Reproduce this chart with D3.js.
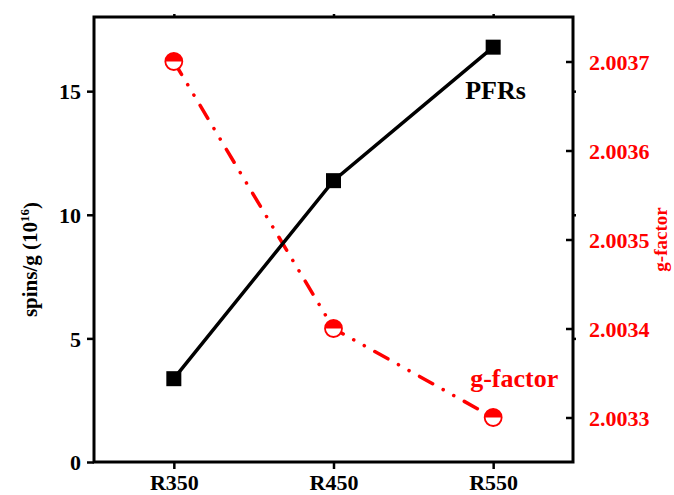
<!DOCTYPE html>
<html>
<head>
<meta charset="utf-8">
<script src="https://cdn.jsdelivr.net/npm/d3@7"></script>
<style>
  body { margin: 0; background: #fff; }
  text { font-family: "Liberation Serif", "Times New Roman", serif; font-weight: bold; }
</style>
</head>
<body>
<svg id="plot"></svg>
<script>
var samples = ["R350", "R450", "R550"];
var spins = [3.37, 11.38, 16.78];
var gFactor = [2.0037, 2.0034, 2.0033];
var spinTicks = [0, 5, 10, 15];
var gTicks = [2.0033, 2.0034, 2.0035, 2.0036, 2.0037];

var width = 674, height = 495;
var margin = {top: 17, right: 101, bottom: 33, left: 94};

var svg = d3.select("#plot")
    .attr("width", width)
    .attr("height", height);

var xScale = d3.scaleLinear()
    .domain([-0.5, 2.5])
    .range([margin.left, width - margin.right]);
var yScale = d3.scaleLinear()
    .domain([0, 18])
    .range([height - margin.bottom, margin.top]);
var gScale = d3.scaleLinear()
    .domain([2.00325, 2.00375])
    .range([height - margin.bottom, margin.top]);

// axes
var xAxis = svg.append("g")
    .attr("transform", "translate(0," + (height - margin.bottom) + ")")
    .call(d3.axisBottom(xScale)
      .tickValues(d3.range(samples.length))
      .tickFormat(i => samples[i])
      .tickSize(7)
      .tickSizeOuter(0)
      .tickPadding(5));
xAxis.selectAll("text").style("font-size", "22px").attr("fill", "#000");

var yAxis = svg.append("g")
    .attr("transform", "translate(" + margin.left + ",0)")
    .call(d3.axisLeft(yScale)
      .tickValues(spinTicks)
      .tickSize(7)
      .tickSizeOuter(0)
      .tickPadding(6));
yAxis.selectAll("text").style("font-size", "22px").attr("fill", "#000").attr("dy", "0.35em");

var gAxis = svg.append("g")
    .attr("transform", "translate(" + (width - margin.right) + ",0)")
    .call(d3.axisRight(gScale)
      .tickValues(gTicks)
      .tickFormat(d3.format(".4f"))
      .tickSize(-7)
      .tickSizeOuter(0)
      .tickPadding(16));
gAxis.selectAll("text").style("font-size", "22px").attr("fill", "#ff0000").attr("dy", "0.35em");

// small mirrored ticks on top and right edges
svg.append("g")
    .attr("transform", "translate(0," + margin.top + ")")
    .call(d3.axisTop(xScale).tickValues(d3.range(samples.length)).tickFormat("").tickSize(3).tickSizeOuter(0));
svg.append("g")
    .attr("transform", "translate(" + (width - margin.right) + ",0)")
    .call(d3.axisRight(yScale).tickValues(spinTicks.slice(1)).tickFormat("").tickSize(3).tickSizeOuter(0));

svg.selectAll(".domain").remove();
svg.selectAll(".tick line").attr("stroke", "#000").attr("stroke-width", 2.5);

// frame
svg.append("rect")
    .attr("x", margin.left)
    .attr("y", margin.top)
    .attr("width", width - margin.left - margin.right)
    .attr("height", height - margin.top - margin.bottom)
    .attr("fill", "none")
    .attr("stroke", "#000")
    .attr("stroke-width", 3);

// g-factor series
var gLine = d3.line()
    .x((d, i) => xScale(i))
    .y(d => gScale(d));
svg.append("path")
    .datum(gFactor)
    .attr("fill", "none")
    .attr("stroke", "#ff0000")
    .attr("stroke-width", 3.5)
    .attr("stroke-linecap", "round")
    .attr("stroke-dasharray", "15,12,0.1,12,0.1,12")
    .attr("d", gLine);

// spins series
var sLine = d3.line()
    .x((d, i) => xScale(i))
    .y(d => yScale(d));
svg.append("path")
    .datum(spins)
    .attr("fill", "none")
    .attr("stroke", "#000")
    .attr("stroke-width", 3.5)
    .attr("d", sLine);

svg.selectAll(".sq")
    .data(spins)
    .enter().append("rect")
    .attr("x", (d, i) => xScale(i) - 7.5)
    .attr("y", d => yScale(d) - 7.5)
    .attr("width", 15)
    .attr("height", 15)
    .attr("fill", "#000");

// half-filled circles (top half red)
var r = 8.5;
var circ = svg.selectAll(".gc")
    .data(gFactor)
    .enter().append("g")
    .attr("transform", (d, i) => "translate(" + xScale(i) + "," + gScale(d) + ")");
circ.append("circle")
    .attr("r", r)
    .attr("fill", "#fff");
circ.append("path")
    .attr("d", "M" + (-r) + ",0A" + r + "," + r + " 0 0 1 " + r + ",0Z")
    .attr("fill", "#ff0000");
circ.append("circle")
    .attr("r", r)
    .attr("fill", "none")
    .attr("stroke", "#ff0000")
    .attr("stroke-width", 1.8);

// labels
svg.append("text")
    .attr("x", xScale(2) - 28)
    .attr("y", yScale(spins[2]) + 52)
    .attr("font-size", 26)
    .attr("fill", "#000")
    .text("PFRs");
svg.append("text")
    .attr("x", xScale(2) - 23)
    .attr("y", gScale(gFactor[2]) - 31)
    .attr("font-size", 26)
    .attr("fill", "#ff0000")
    .text("g-factor");

var yLab = svg.append("text")
    .attr("transform", "translate(37," + ((margin.top + height - margin.bottom) / 2 + 20) + ") rotate(-90)")
    .attr("text-anchor", "middle")
    .attr("font-size", 21)
    .attr("fill", "#000");
yLab.append("tspan").text("spins/g (10");
yLab.append("tspan").attr("font-size", 13).attr("dy", "-0.6em").text("16");
yLab.append("tspan").attr("dy", "0.4em").text(")");

svg.append("text")
    .attr("transform", "translate(667," + ((margin.top + height - margin.bottom) / 2) + ") rotate(-90)")
    .attr("text-anchor", "middle")
    .attr("font-size", 19)
    .attr("fill", "#ff0000")
    .text("g-factor");
</script>
</body>
</html>
